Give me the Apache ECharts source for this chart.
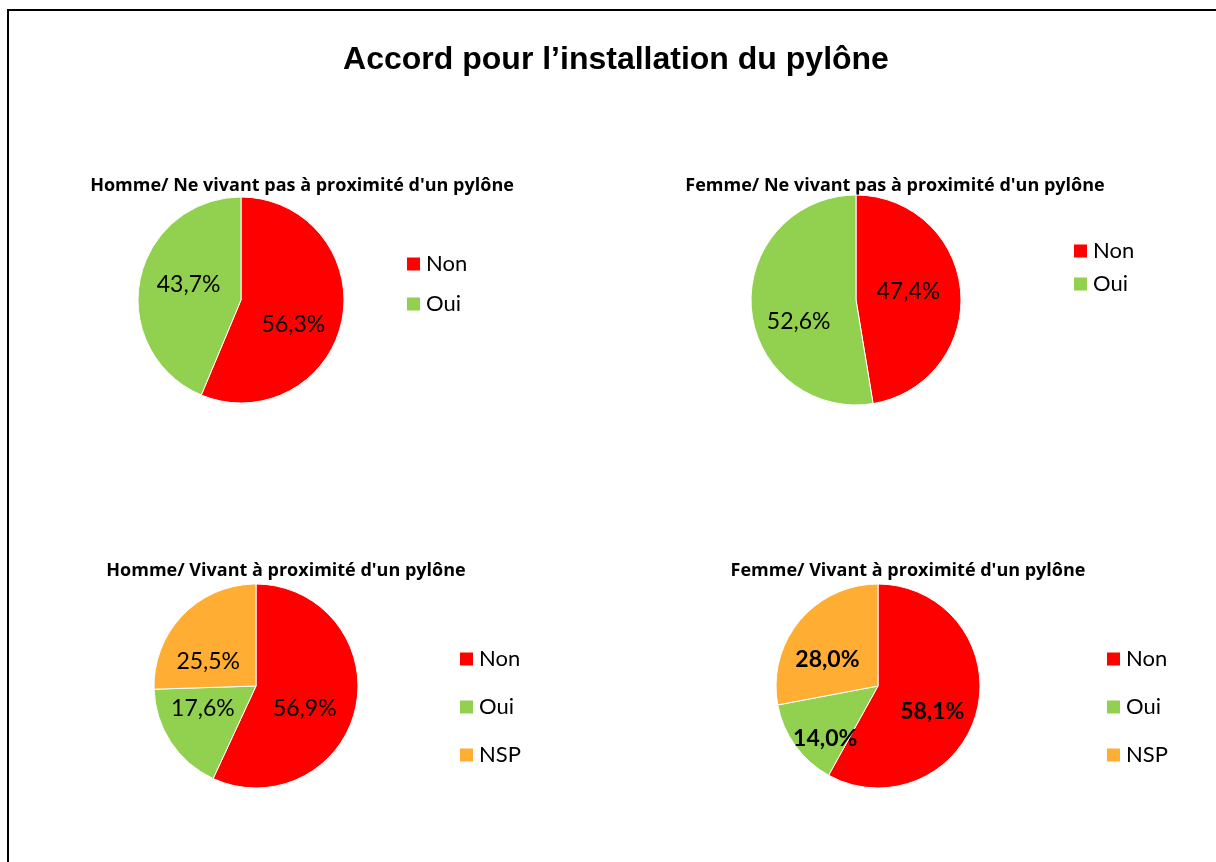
<!DOCTYPE html>
<html>
<head>
<meta charset="utf-8">
<script src="https://cdn.jsdelivr.net/npm/echarts@6/dist/echarts.min.js"></script>
<style>
	html, body { margin: 0; padding: 0; background: #fff; overflow: hidden; }
	#chart { width: 1216px; height: 862px; }
</style>
</head>
<body>
<div id="chart"></div>
<script>
'use strict';

// data
var mainTitle = 'Accord pour l\u2019installation du pylône';
var catsTwo = ['Non', 'Oui'];
var catsThree = ['Non', 'Oui', 'NSP'];
var hommeLoin = [56.3, 43.7];
var femmeLoin = [47.4, 52.6];
var hommeProche = [56.9, 17.6, 25.5];
var femmeProche = [58.1, 14.0, 28.0];
var subTitles = [
	'Homme/ Ne vivant pas à proximité d\'un pylône',
	'Femme/ Ne vivant pas à proximité d\'un pylône',
	'Homme/ Vivant à proximité d\'un pylône',
	'Femme/ Vivant à proximité d\'un pylône'
];

var colors = { Non: '#FF0000', Oui: '#92D050', NSP: '#FFAD33' };
var bodyFont = 'Lato, "Open Sans", sans-serif';

// layout of each pie: center, radius, title pos, legend pos, label nudges (px)
var panels = [
	{ cats: catsTwo, values: hommeLoin, cx: 241, cy: 300, r: 103, tx: 302, ty: 186, lx: 405, ly: 253, gap: 18, bold: false,
		nudge: [[-1, 14], [1, -5]] },
	{ cats: catsTwo, values: femmeLoin, cx: 856, cy: 300, r: 105, tx: 895, ty: 186, lx: 1072, ly: 240, gap: 11, bold: false,
		nudge: [[-3, -4], [-2, 17]] },
	{ cats: catsThree, values: hommeProche, cx: 256, cy: 686, r: 102, tx: 286, ty: 571, lx: 458, ly: 648, gap: 26, bold: false,
		nudge: [[-4, 11], [-8, -7], [-9, 13]] },
	{ cats: catsThree, values: femmeProche, cx: 878, cy: 686, r: 102, tx: 908, ty: 571, lx: 1105, ly: 648, gap: 26, bold: true,
		nudge: [[2, 12], [-9, 21], [-9, 8]] }
];

function fmt(v) {
	return v.toFixed(1).replace('.', ',') + '%';
}

var series = [];
var legends = [];
var graphics = [{
	type: 'rect',
	shape: { x: 8, y: 10, width: 1400, height: 1000 },
	style: { fill: 'none', stroke: '#000', lineWidth: 2 },
	silent: true
}, {
	type: 'text',
	x: 616,
	y: 60,
	style: {
		text: mainTitle,
		font: 'bold 32px "Liberation Sans", Arial, sans-serif',
		fill: '#000',
		textAlign: 'center',
		textVerticalAlign: 'middle'
	}
}];

panels.forEach(function (p, i) {
	series.push({
		type: 'pie',
		center: [p.cx, p.cy],
		radius: [0, p.r],
		startAngle: 90,
		clockwise: true,
		avoidLabelOverlap: false,
		emphasis: { disabled: true },
		itemStyle: { borderColor: '#fff', borderWidth: 1 },
		label: {
			show: true,
			position: 'inside',
			fontFamily: bodyFont,
			fontSize: 23,
			fontWeight: p.bold ? 'bold' : 'normal',
			color: '#000',
			formatter: function (d) { return fmt(d.value); }
		},
		labelLine: { show: false },
		data: p.cats.map(function (c, k) {
			return {
				name: c,
				value: p.values[k],
				itemStyle: { color: colors[c] },
				label: { offset: p.nudge[k] }
			};
		})
	});
	legends.push({
		orient: 'vertical',
		left: p.lx,
		top: p.ly,
		icon: 'rect',
		itemWidth: 15,
		itemHeight: 15,
		itemGap: p.gap,
		padding: 0,
		selectedMode: false,
		textStyle: { fontFamily: bodyFont, fontSize: 22, lineHeight: 20, color: '#000' },
		data: p.cats
	});
	graphics.push({
		type: 'text',
		x: p.tx,
		y: p.ty,
		style: {
			text: subTitles[i],
			font: 'bold 18px "Open Sans", Lato, sans-serif',
			fill: '#000',
			textAlign: 'center',
			textVerticalAlign: 'middle'
		}
	});
});

var chart = echarts.init(document.getElementById('chart'));
chart.setOption({
	animation: false,
	backgroundColor: '#fff',
	legend: legends,
	graphic: graphics,
	series: series
});
</script>
</body>
</html>
